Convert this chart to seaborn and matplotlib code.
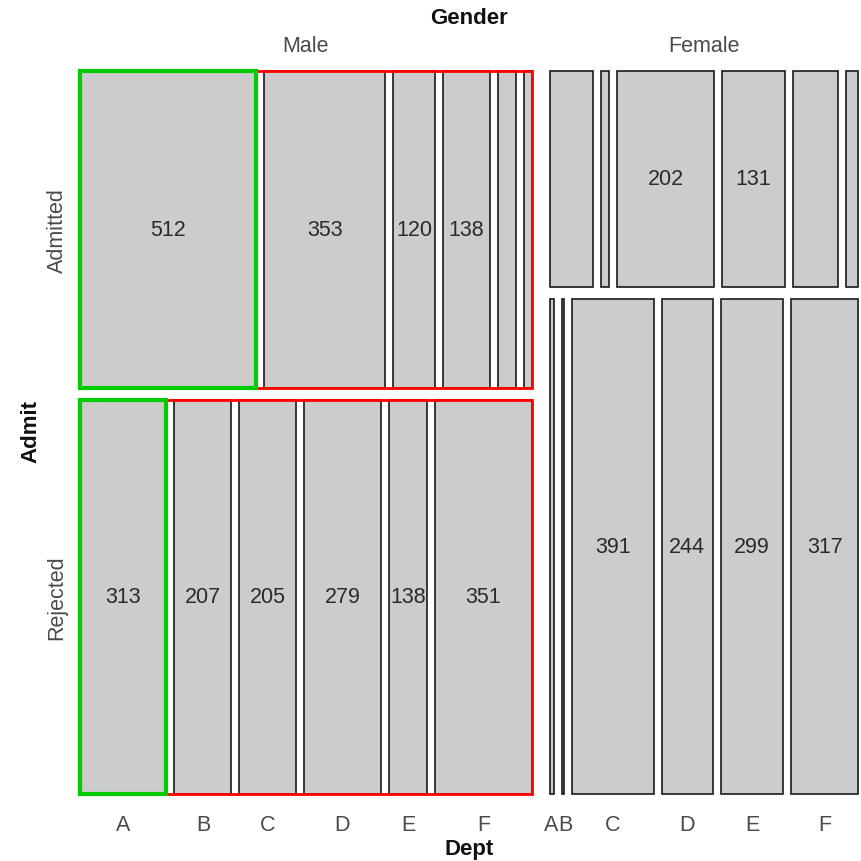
import matplotlib
matplotlib.use("Agg")
import matplotlib.pyplot as plt
from matplotlib.patches import Rectangle
import seaborn as sns
import numpy as np

sns.set_style("white")
plt.rcParams['font.family'] = ['Liberation Sans', 'DejaVu Sans']

# ---- data (UCBAdmissions) ----
genders = ["Male", "Female"]
admits = ["Admitted", "Rejected"]
depts = ["A", "B", "C", "D", "E", "F"]
male_admitted = [512, 353, 120, 138, 53, 22]
male_rejected = [313, 207, 205, 279, 138, 351]
female_admitted = [89, 17, 202, 131, 94, 24]
female_rejected = [19, 8, 391, 244, 299, 317]

counts = {
    ("Male", "Admitted"): male_admitted,
    ("Male", "Rejected"): male_rejected,
    ("Female", "Admitted"): female_admitted,
    ("Female", "Rejected"): female_rejected,
}

# ---- layout parameters (pixels) ----
X0, X1, Y0, Y1 = 80, 858, 72, 795
col_gap, row_gap, dept_gap = 18, 12, 8
label_min = 100
fill = "#cccccc"
edge = "#1a1a1a"
txt = "#2a2a2a"
lab = "#4a4a4a"

fig = plt.figure(figsize=(8.62, 8.62), dpi=100)
ax = fig.add_axes([0, 0, 1, 1])
ax.set_xlim(0, 862)
ax.set_ylim(862, 0)
ax.axis("off")

gender_tot = {g: sum(counts[(g, a)][i] for a in admits for i in range(6)) for g in genders}
total = sum(gender_tot.values())
avail_w = X1 - X0 - col_gap
avail_h = Y1 - Y0 - row_gap

x = X0
for g in genders:
    cw = avail_w * gender_tot[g] / total
    ax.text(x + cw / 2, 47, g, ha="center", va="center", fontsize=15.5, color=lab)
    y = Y0
    for a in admits:
        vals = np.array(counts[(g, a)], dtype=float)
        rh = avail_h * vals.sum() / gender_tot[g]
        widths = (cw - dept_gap * (len(vals) - 1)) * vals / vals.sum()
        lefts = x + np.concatenate([[0], np.cumsum(widths[:-1] + dept_gap)])
        ax.bar(lefts, [rh] * len(vals), width=widths, bottom=y, align="edge",
               color=fill, edgecolor=edge, linewidth=1.2)
        for l, w, v in zip(lefts, widths, vals):
            if v >= label_min:
                ax.text(l + w / 2, y + rh / 2, f"{int(v)}", ha="center", va="center",
                        fontsize=15.5, color=txt)
        if g == "Male":
            ax.text(57, y + rh / 2, a, rotation=90, ha="center", va="center",
                    fontsize=15.5, color=lab)
            # highlight: dept A in green, the rest in red
            ax.add_patch(Rectangle((lefts[0], y), widths[0], rh, fill=False,
                                   edgecolor="#00cc00", linewidth=3, zorder=5))
            rx = lefts[0] + widths[0]
            ax.add_patch(Rectangle((rx, y), lefts[-1] + widths[-1] - rx, rh, fill=False,
                                   edgecolor="#ff0000", linewidth=2, zorder=4))
        if a == "Rejected":
            centers = lefts + widths / 2
            i = 0
            while i < len(depts):
                # crowded neighbouring labels: set them side by side around their midpoint
                if i + 1 < len(depts) and centers[i + 1] - centers[i] < 16:
                    mid = (centers[i] + centers[i + 1]) / 2
                    ax.text(mid + 1, 826, depts[i], ha="right", va="center",
                            fontsize=15.5, color=lab)
                    ax.text(mid + 1, 826, depts[i + 1], ha="left", va="center",
                            fontsize=15.5, color=lab)
                    i += 2
                else:
                    ax.text(centers[i], 826, depts[i], ha="center", va="center",
                            fontsize=15.5, color=lab)
                    i += 1
        y += rh + row_gap
    x += cw + col_gap

ax.text(469, 19, "Gender", ha="center", va="center", fontsize=16, fontweight="bold", color="#111111")
ax.text(469, 850, "Dept", ha="center", va="center", fontsize=16, fontweight="bold", color="#111111")
ax.text(31, 432, "Admit", rotation=90, ha="center", va="center", fontsize=16,
        fontweight="bold", color="#111111")

fig.savefig("out.png", dpi=100, facecolor="white")
